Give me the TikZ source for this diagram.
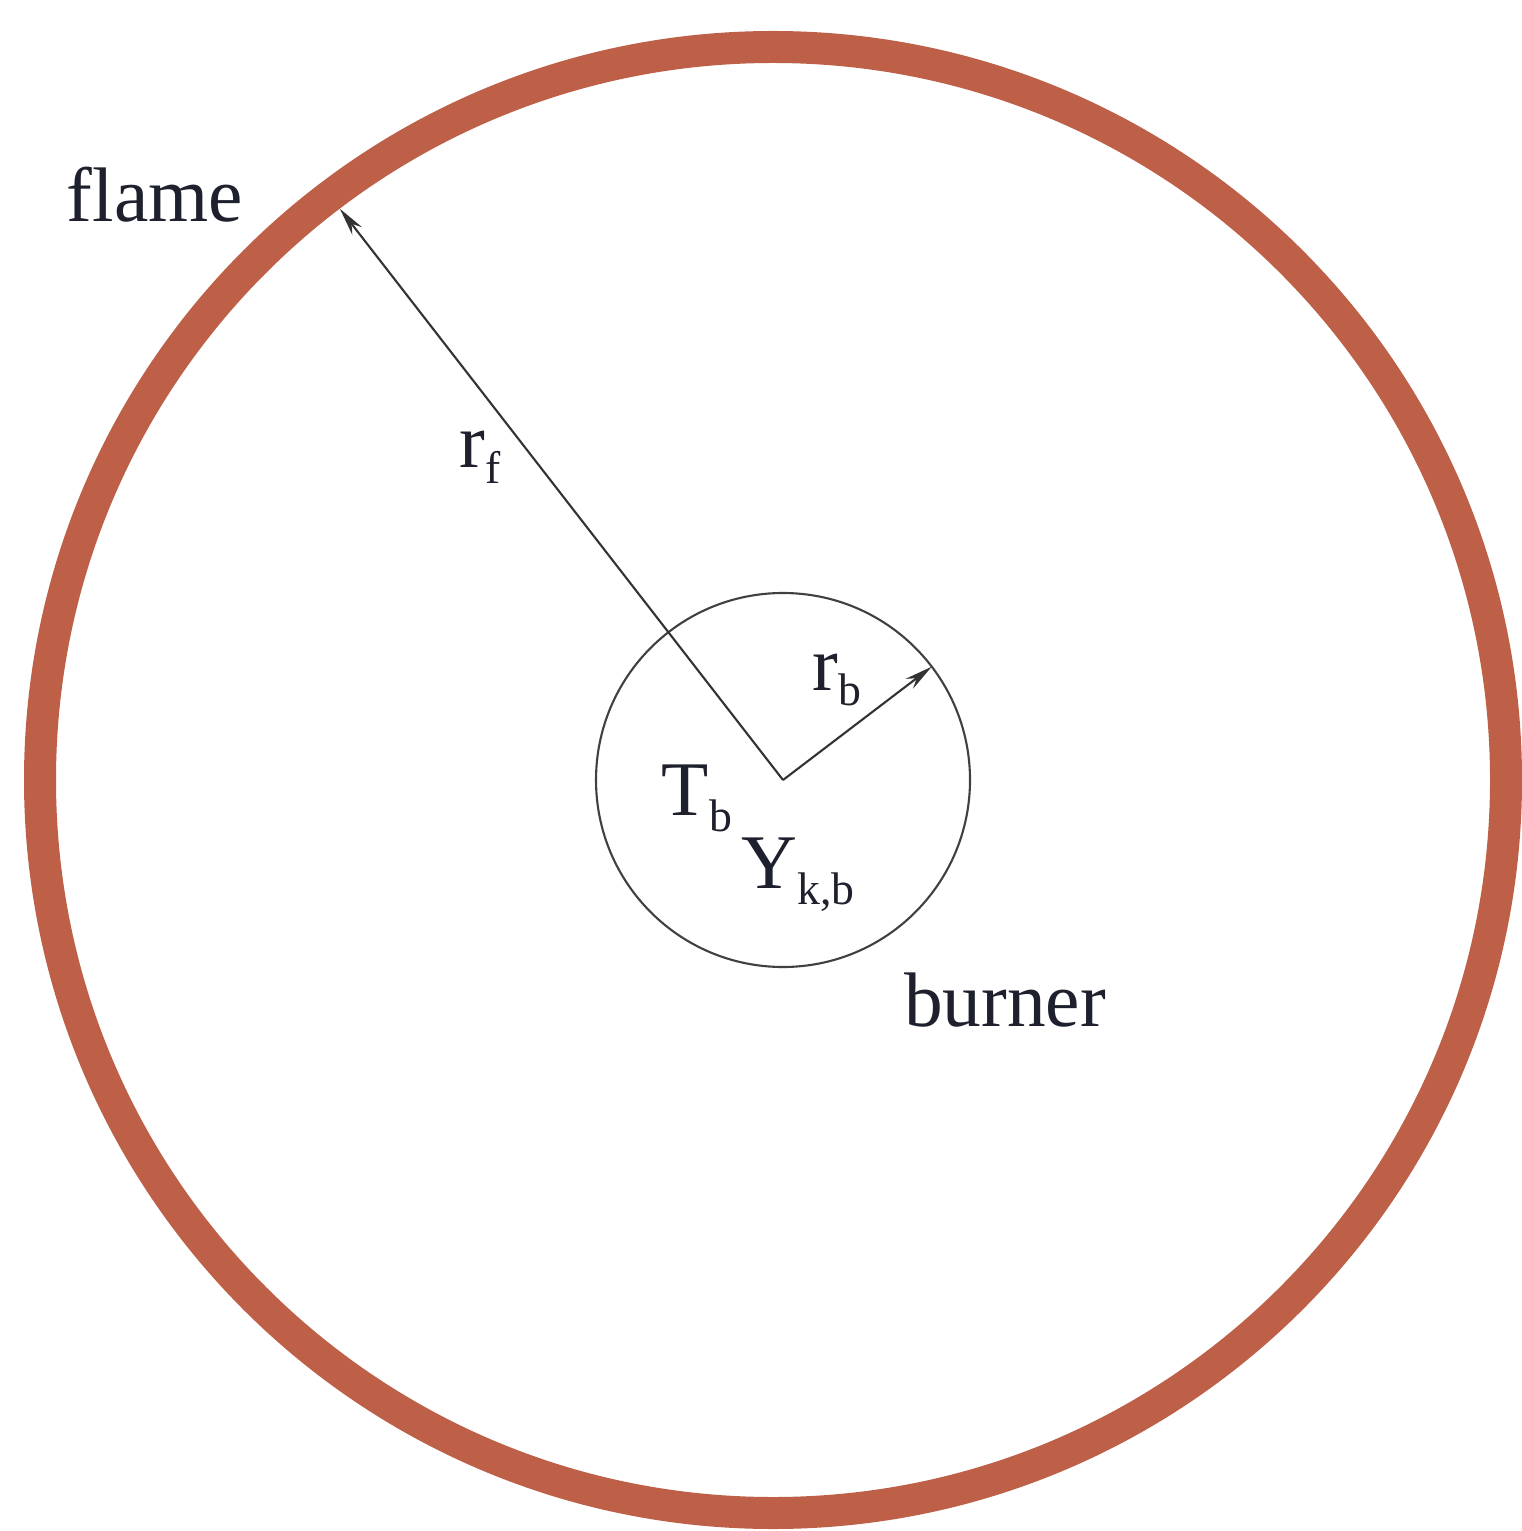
\documentclass[tikz,border=0pt]{standalone}
\usepackage{xcolor}
\usepackage{fontspec}
\setmainfont{Liberation Serif}
\usepackage{tikz}
\usetikzlibrary{arrows.meta}
\definecolor{chama}{RGB}{190,96,72}
\definecolor{tinta}{RGB}{30,32,45}
\newcommand{\indice}[1]{\raisebox{-0.45ex}{\fontsize{13}{14}\selectfont #1}}

\begin{document}
\begin{tikzpicture}[
    >={Stealth[length=8pt,width=3.5pt]},
    rotulo/.style={font=\fontsize{22}{26}\selectfont, text=tinta},
    simbolo/.style={font=\fontsize{22}{26}\selectfont, text=tinta, inner sep=1pt},
    seta/.style={->, line width=0.6pt, black!80}
]
    \def\raiochama{7.33cm}
    \def\raioqueimador{1.87cm}
    \useasboundingbox (0,0) rectangle (15.21,-15.31);

    % --- CHAMA ---
    \draw[chama, line width=0.32cm] (7.73,-7.80) circle (\raiochama);
    \node[rotulo] (flame) at (1.55,-1.95) {flame};

    % --- QUEIMADOR ---
    \coordinate (centro) at (7.83,-7.80);
    \draw[line width=0.6pt, black!75] (centro) circle (\raioqueimador);
    \node[rotulo] (burner) at (10.05,-10.00) {burner};

    % --- RAIOS ---
    \coordinate (pf) at ([shift={(127.8:7.23)}]centro);
    \coordinate (pb) at ([shift={(37.3:1.87)}]centro);
    \draw[seta] (centro) -- (pf);
    \draw[seta] (centro) -- (pb);

    % --- SIMBOLOS ---
    \node[simbolo] (rf) at (4.80,-4.57) {r\indice{f}};
    \node[simbolo] (rb) at (8.37,-6.80) {r\indice{b}};
    \node[simbolo] (tb) at (6.97,-7.98) {T\indice{b}};
    \node[simbolo] (ykb) at (7.98,-8.75) {Y\indice{k,b}};

\end{tikzpicture}
\end{document}
